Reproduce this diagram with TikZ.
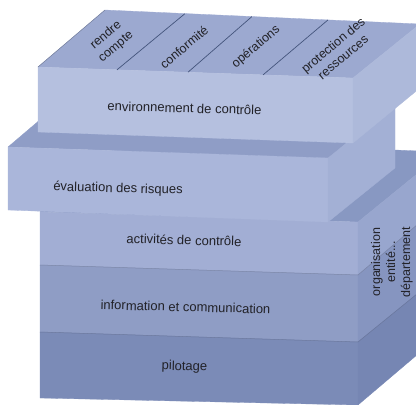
\documentclass[tikz,border=0pt]{standalone}
\usepackage{fontspec}
\setmainfont{Liberation Sans}
\definecolor{Ttop}{HTML}{9CA9D0}
\definecolor{Tfront}{HTML}{B5C0DF}
\definecolor{Tside}{HTML}{ADB9DA}
\definecolor{Etop}{HTML}{8F9DC6}
\definecolor{Efront}{HTML}{AAB6DA}
\definecolor{Eside}{HTML}{A3B0D5}
\definecolor{Ltop}{HTML}{8898C2}
\definecolor{Afront}{HTML}{A2AED4}
\definecolor{Aside}{HTML}{98A6CE}
\definecolor{Ifront}{HTML}{8F9DC5}
\definecolor{Iside}{HTML}{8695C0}
\definecolor{Pfront}{HTML}{7B8BB7}
\definecolor{Pside}{HTML}{7686B3}
\definecolor{divline}{HTML}{44547C}
\definecolor{txt}{HTML}{222228}

\begin{document}

\begin{tikzpicture}[x=1pt,y=-1pt,
  face/.style={fill=#1,draw=#1,line width=0.3pt,line join=round},
  lbl/.style={font=\fontsize{13}{15}\selectfont,text=txt,inner sep=0pt,rotate=-1.5},
  toplbl/.style={font=\fontsize{12.5}{15.5}\selectfont,text=txt,inner sep=0pt,rotate=40,align=center},
  sidelbl/.style={font=\fontsize{12.5}{15}\selectfont,text=txt,inner sep=0pt,rotate=90,align=center},
  divider/.style={draw=divline,line width=0.7pt}]
\useasboundingbox (0,0) rectangle (416,405);
\clip (0,0) rectangle (416,405);
% lower block
\fill[face=Ltop] (40,212) -- (358,222) -- (444,152) -- (126,139) -- cycle;
\fill[face=Afront] (40,212) -- (358,222) -- (358,275) -- (40,265) -- cycle;
\fill[face=Ifront] (40,265) -- (358,275) -- (358,342) -- (40,332) -- cycle;
\fill[face=Pfront] (40,332) -- (358,342) -- (358,405) -- (40,398) -- cycle;
\fill[face=Aside] (358,222) -- (444,152) -- (444,202) -- (358,275) -- cycle;
\fill[face=Iside] (358,275) -- (444,202) -- (444,272) -- (358,342) -- cycle;
\fill[face=Pside] (358,342) -- (444,272) -- (444,332) -- (358,405) -- cycle;
\draw[draw=Ifront!85!black,line width=0.5pt] (40,265) -- (358,275) -- (444,202);
\draw[draw=Pfront!85!black,line width=0.5pt] (40,332) -- (358,342) -- (444,272);
% evaluation slab
\fill[face=Etop] (8,147) -- (328,158) -- (395,104) -- (75,90) -- cycle;
\fill[face=Efront] (8,147) -- (328,158) -- (328,222) -- (8,210) -- cycle;
\fill[face=Eside] (328,158) -- (395,104) -- (395,168) -- (328,222) -- cycle;
% top slab
\fill[face=Ttop] (38,67) -- (353,78) -- (420,24) -- (105,10) -- cycle;
\fill[face=Tfront] (38,67) -- (353,78) -- (353,143) -- (38,132) -- cycle;
\fill[face=Tside] (353,78) -- (420,24) -- (420,88) -- (353,143) -- cycle;
\draw[draw=Ttop!75!black,line width=0.5pt] (38,67) -- (105,10);
% dividers on top face
\coordinate (d1f) at (117,69.8); \coordinate (d1b) at (185,13.6);
\coordinate (d2f) at (188,72.2); \coordinate (d2b) at (252,16.5);
\coordinate (d3f) at (263,74.9); \coordinate (d3b) at (328,19.9);
\draw[divider] (d1f) -- (d1b);
\draw[divider] (d2f) -- (d2b);
\draw[divider] (d3f) -- (d3b);
% top labels
\node[toplbl] (rc) at (111,41) {rendre\\compte};
\node[toplbl] (cf) at (184,47) {conformité};
\node[toplbl] (op) at (256,47) {opérations};
\node[toplbl] (pr) at (338,51) {protection des\\ressources};
% front labels
\node[lbl] (env) at (184.5,108) {environnement de contrôle};
\node[lbl] (eval) at (118,189) {évaluation des risques};
\node[lbl] (act) at (184,240) {activités de contrôle};
\node[lbl] (info) at (185.5,307) {information et communication};
\node[lbl] (pil) at (184.5,367) {pilotage};
% side label
\node[sidelbl] (org) at (392,262) {organisation\\entité...\\département};
\end{tikzpicture}

\end{document}
